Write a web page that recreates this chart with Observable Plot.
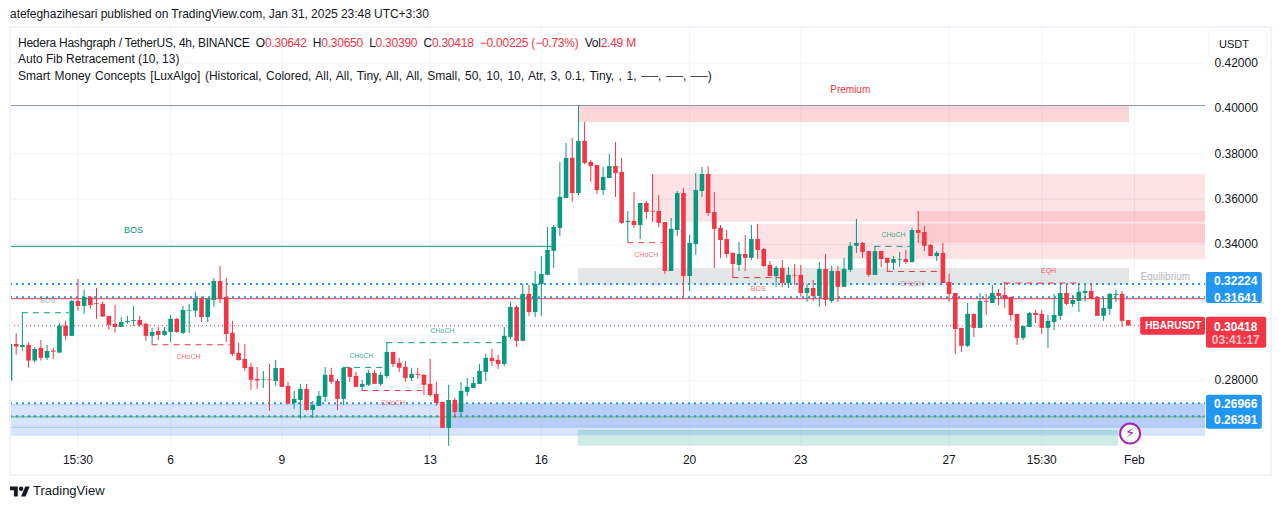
<!DOCTYPE html>
<html><head><meta charset="utf-8">
<script src="https://cdn.jsdelivr.net/npm/d3@7"></script>
<script src="https://cdn.jsdelivr.net/npm/@observablehq/plot@0.6"></script>
<style>
html,body{margin:0;padding:0;background:#fff;}
#wrap{position:relative;width:1281px;height:509px;overflow:hidden;font-family:"Liberation Sans",sans-serif;color:#131722;}
#wrap svg{display:block;}
.ov{position:absolute;white-space:nowrap;font-size:12px;line-height:16px;}
.r{color:#f23645;}
</style></head><body>
<div id="wrap"></div>
<script>
const open=[.2798,.2959,.2946,.2955,.2886,.2942,.2898,.2930,.2921,.3040,.2995,.3149,.3127,.3167,.3139,.3136,.3083,.3048,.3034,.3056,.3061,.3065,.3048,.2995,.3017,.2999,.3012,.3070,.3008,.3106,.3106,.3158,.3078,.3153,.3237,.3167,.3008,.2920,.2893,.2858,.2805,.2802,.2805,.2796,.2853,.2774,.2698,.2712,.2761,.2668,.2686,.2726,.2823,.2796,.2717,.2854,.2818,.2770,.2779,.2831,.2783,.2818,.2924,.2876,.2858,.2809,.2827,.2823,.2783,.2739,.2704,.2589,.2712,.2659,.2748,.2765,.2783,.2836,.2898,.2889,.2871,.2990,.3122,.2973,.3180,.3100,.3224,.3264,.3370,.3471,.3603,.3780,.3625,.3855,.3762,.3749,.3638,.3691,.3744,.3718,.3497,.3502,.3484,.3581,.3546,.3546,.3497,.3281,.3462,.3625,.3259,.3400,.3634,.3709,.3541,.3471,.3422,.3361,.3308,.3356,.3339,.3422,.3378,.3308,.3259,.3295,.3228,.3264,.3264,.3184,.3206,.3171,.3290,.3149,.3281,.3211,.3286,.3392,.3405,.3369,.3264,.3369,.3339,.3317,.3331,.3334,.3321,.3462,.3453,.3396,.3347,.3361,.3233,.3184,.3030,.2951,.3092,.3030,.3149,.3140,.3184,.3175,.3167,.3092,.2986,.3034,.3096,.3092,.3030,.3056,.3083,.3184,.3136,.3149,.3184,.3193,.3167,.3083,.3114,.3175,.3180,.30642];
const high=[.2959,.3006,.3099,.2968,.2945,.2977,.2955,.2942,.3051,.3061,.3153,.3246,.3198,.3171,.3206,.3146,.3083,.3131,.3078,.3083,.3127,.3083,.3052,.3030,.3034,.3034,.3087,.3074,.3127,.3136,.3189,.3168,.3162,.3250,.3303,.3250,.3061,.2964,.2959,.2876,.2858,.2840,.2871,.2889,.2853,.2792,.2752,.2783,.2783,.2708,.2752,.2858,.2854,.2805,.2858,.2858,.2836,.2801,.2845,.2845,.2836,.2968,.2924,.2898,.2884,.2854,.2854,.2827,.2893,.2792,.2704,.2779,.2721,.2792,.2809,.2814,.2871,.2915,.2937,.2911,.3034,.3145,.3131,.3224,.3220,.3280,.3347,.3475,.3484,.3762,.3846,.3868,.4013,.3938,.3771,.3749,.3740,.3797,.3850,.3780,.3546,.3630,.3581,.3590,.3709,.3616,.3497,.3515,.3634,.3647,.3440,.3713,.3740,.3744,.3630,.3484,.3462,.3361,.3409,.3440,.3484,.3489,.3383,.3325,.3303,.3330,.3299,.3312,.3308,.3224,.3242,.3321,.3356,.3303,.3303,.3339,.3409,.3511,.3409,.3369,.3392,.3369,.3339,.3347,.3365,.3374,.3471,.3546,.3480,.3400,.3369,.3405,.3268,.3184,.3030,.3140,.3092,.3184,.3180,.3220,.3202,.3233,.3167,.3092,.3039,.3100,.3109,.3109,.3087,.3180,.3220,.3224,.3175,.3224,.3224,.3224,.3167,.3162,.3184,.3198,.3193,.30650];
const low=[.2798,.2911,.2930,.2855,.2877,.2886,.2889,.2893,.2921,.2977,.2995,.3106,.3092,.3114,.3070,.3078,.3023,.3009,.3034,.3048,.3039,.3034,.2973,.2958,.2977,.2995,.2968,.3008,.3003,.3008,.3078,.3056,.3056,.3123,.3139,.2968,.2906,.2885,.2840,.2757,.2761,.2765,.2664,.2774,.2770,.2695,.2673,.2629,.2664,.2633,.2686,.2704,.2783,.2668,.2690,.2792,.2770,.2755,.2774,.2783,.2774,.2809,.2858,.2836,.2792,.2796,.2805,.2734,.2726,.2686,.2589,.2510,.2633,.2642,.2730,.2765,.2783,.2796,.2862,.2849,.2862,.2981,.2946,.2973,.3083,.3078,.3083,.3264,.3295,.3436,.3603,.3586,.3616,.3753,.3674,.3621,.3616,.3691,.3608,.3489,.3409,.3471,.3422,.3511,.3497,.3475,.3268,.3281,.3436,.3167,.3193,.3352,.3608,.3524,.3295,.3339,.3339,.3253,.3281,.3281,.3330,.3334,.3299,.3259,.3211,.3211,.3206,.3220,.3167,.3145,.3149,.3123,.3127,.3140,.3145,.3211,.3277,.3361,.3339,.3255,.3264,.3299,.3277,.3286,.3299,.3312,.3317,.3405,.3369,.3347,.3325,.3228,.3145,.2915,.2924,.2946,.2990,.3030,.3087,.3140,.3131,.3118,.3061,.2955,.2977,.3034,.3052,.3003,.2942,.3021,.3065,.3131,.3123,.3100,.3145,.3158,.3083,.3061,.3087,.3145,.3034,.30390];
const close=[.2959,.2948,.2955,.2886,.2937,.2898,.2928,.2925,.3040,.2995,.3149,.3127,.3167,.3131,.3136,.3080,.3043,.3034,.3056,.3061,.3065,.3043,.2995,.3012,.2999,.3017,.3070,.3012,.3109,.3109,.3158,.3078,.3158,.3237,.3158,.3003,.2915,.2889,.2853,.2801,.2798,.2805,.2802,.2853,.2770,.2695,.2717,.2761,.2668,.2690,.2730,.2823,.2792,.2717,.2854,.2814,.2770,.2783,.2831,.2783,.2823,.2924,.2871,.2854,.2809,.2827,.2823,.2779,.2734,.2699,.2589,.2712,.2659,.2752,.2770,.2787,.2840,.2898,.2884,.2871,.2995,.3122,.2973,.3180,.3100,.3224,.3268,.3374,.3475,.3608,.3780,.3625,.3855,.3758,.3744,.3638,.3696,.3744,.3713,.3493,.3502,.3484,.3581,.3541,.3543,.3493,.3281,.3467,.3625,.3259,.3405,.3638,.3709,.3537,.3467,.3418,.3356,.3312,.3356,.3339,.3422,.3374,.3303,.3259,.3295,.3228,.3264,.3261,.3184,.3206,.3171,.3290,.3154,.3281,.3211,.3290,.3392,.3405,.3365,.3264,.3369,.3334,.3317,.3334,.3334,.3321,.3462,.3449,.3392,.3347,.3361,.3228,.3180,.3025,.2951,.3092,.3030,.3149,.3145,.3184,.3171,.3158,.3087,.2986,.3039,.3096,.3087,.3030,.3061,.3087,.3184,.3136,.3153,.3189,.3193,.3158,.3083,.3118,.3180,.3180,.3061,.30418];

const tickIndex=[11,26,44,68,86,110,128,152,167,182];
const tickLabels=["15:30","6","9","13","16","20","23","27","15:30","Feb"];
const priceTicks=[.28,.34,.36,.38,.40,.42];
const gridPrices=[.26,.28,.30,.32,.34,.36,.38,.40,.42];

const zoneStart=[0,71,92,104,121,147,92,92];
const zoneEnd=[193.5,193.5,179.4,193.5,193.5,193.5,181.2,181.2];
const zoneTop=[.2693,.2699,.2580,.3709,.3489,.3546,.4013,.3295];
const zoneBottom=[.2560,.2593,.2510,.3499,.3334,.3405,.3938,.3222];
const zoneFill=["#3a7af0","#3a7af0","#089981","#f23645","#f23645","#f23645","#f23645","#787b86"];
const zoneAlpha=[.2,.2,.2,.14,.14,.14,.2,.2];

const dashStart=[2,23,54,57,61,100,117,140,142,161];
const dashEnd=[9.6,35.7,60.6,66.8,79.6,106,125.5,146,150.3,173.1];
const dashPrice=[.3099,.2958,.2858,.2756,.2967,.3408,.3254,.3392,.3281,.3230];
const dashColor=["#089981","#f23645","#089981","#f23645","#089981","#f23645","#f23645","#089981","#f23645","#f23645"];

const labelText=["BOS","BOS","CHoCH","CHoCH","CHoCH","CHoCH","CHoCH","BOS","CHoCH","CHoCH","EQH","Equilibrium","Premium"];
const labelIndex=[20,6.1,28.9,56.9,62,70,103,121.1,143,146,168.1,187,136];
const labelPrice=[.3462,.3152,.2906,.2911,.2704,.3018,.3353,.3206,.3441,.3227,.3283,.3259,.4083];
const labelColor=["#089981","#089981","#f23645","#089981","#f23645","#089981","#f23645","#f23645","#089981","#f23645","#f23645","#b2b5be","#f23645"];
const labelSize=[9,7,7,7,7,7,7,7,7,7,7,10,10];
const labelAlpha=[1,.6,.75,.85,.75,.85,.75,.75,.85,.65,.8,1,1];

const solidStart=[0,0,0];
const solidEnd=[193.5,88,193.5];
const solidPrice=[.4013,.3392,.3161];
const solidColor=["#8a92b6","#089981","#f23645"];

const levelPrice=[.32224,.31641,.26966,.26391];
const lastPrice=.30418;
const fibPrice=.2640;

const tagLow=[.3140,.2585];
const tagHigh=[.3277,.2735];
const tagValues=[["0.32224",.3237],["0.31641",.31641],["0.26966",.26966],["0.26391",.2624]];

const candles=open.map((o,i)=>({i,open:o,high:high[i],low:low[i],close:close[i],col:close[i]>=o?"#089981":"#f23645"}));
const zones=zoneStart.map((s,i)=>({s,e:zoneEnd[i],t:zoneTop[i],b:zoneBottom[i],f:zoneFill[i],a:zoneAlpha[i]}));
const dashes=dashStart.map((s,i)=>({s,e:dashEnd[i],p:dashPrice[i],c:dashColor[i]}));
const labels=labelText.map((t,i)=>({t,x:labelIndex[i],p:labelPrice[i],c:labelColor[i],s:labelSize[i],a:labelAlpha[i]}));
const solids=solidStart.map((s,i)=>({s,e:solidEnd[i],p:solidPrice[i],c:solidColor[i]}));
const XEND=193.5, TAGL=193.66, TAGR=202.7, TAGRR=203.4, TAGC=198.4;

const chart=Plot.plot({
  width:1281,height:509,marginLeft:10,marginRight:76,marginTop:28,marginBottom:63,
  style:{fontFamily:'"Liberation Sans",sans-serif',fontSize:"12px",background:"transparent",color:"#131722",overflow:"visible"},
  x:{type:"linear",domain:[0.08,XEND],label:null},
  y:{type:"linear",domain:[.2509,.4353],label:null},
  marks:[
    Plot.gridY(gridPrices,{stroke:"#f0f3fa",strokeOpacity:1}),
    Plot.gridX(tickIndex,{stroke:"#f0f3fa",strokeOpacity:1}),
    Plot.rect(zones,{x1:"s",x2:"e",y1:"b",y2:"t",fill:"f",fillOpacity:"a"}),
    Plot.ruleY([.2693,.2593,.2560],{x1:0.08,x2:XEND,stroke:"#b3cdf5",strokeWidth:1}),
    Plot.ruleY(solids,{x1:"s",x2:"e",y:"p",stroke:"c",strokeWidth:1}),
    Plot.ruleY([fibPrice],{x1:0.08,x2:XEND,stroke:"#6fb868",strokeWidth:1.2}),
    Plot.ruleY([lastPrice],{x1:0.08,x2:XEND,stroke:"#f23645",strokeWidth:1,strokeDasharray:"1,3"}),
    Plot.ruleY(levelPrice,{x1:0.08,x2:XEND,dy:-0.7,stroke:"#2196f3",strokeWidth:2,strokeDasharray:"2,4"}),
    Plot.ruleY(dashes,{x1:"s",x2:"e",y:"p",stroke:"c",strokeWidth:1,strokeDasharray:"6,5"}),
    Plot.ruleX(candles,{x:"i",y1:"low",y2:"high",stroke:"col",strokeWidth:1,clip:true}),
    Plot.ruleX(candles,{x:"i",y1:"open",y2:"close",stroke:"col",strokeWidth:4.6,clip:true}),
    Plot.text(labels,{x:"x",y:"p",text:"t",fill:"c",fontSize:"s",fillOpacity:"a"}),
    Plot.axisY(priceTicks,{anchor:"right",tickSize:0,tickPadding:9,tickFormat:d3.format(".5f"),fontSize:12,label:null,fill:"#131722"}),
    Plot.axisX(tickIndex,{anchor:"bottom",tickSize:0,tickPadding:9,tickFormat:d=>tickLabels[tickIndex.indexOf(d)],fontSize:12,label:null,fill:"#131722"}),
    Plot.rect([0,1],{x1:TAGL,x2:TAGR,y1:i=>tagLow[i],y2:i=>tagHigh[i],fill:"#2196f3",rx:2}),
    Plot.rect([0],{x1:TAGL,x2:TAGRR,y1:.2942,y2:.3079,fill:"#f23645",rx:2}),
    Plot.rect([0],{x1:183,x2:193.5,y1:.3000,y2:.3079,fill:"#f23645",rx:2}),
    Plot.text(tagValues,{x:TAGC,y:d=>d[1],text:d=>d[0],fill:"white",fontSize:12,fontWeight:600}),
    Plot.text(["0.30418"],{x:TAGC,y:.3036,fill:"white",fontSize:12,fontWeight:600}),
    Plot.text(["03:41:17"],{x:TAGC,y:.2980,fill:"white",fillOpacity:.7,fontSize:12,fontWeight:600}),
    Plot.text(["HBARUSDT"],{x:188.3,y:.3040,fill:"white",fontSize:10,fontWeight:600}),
    Plot.dot([0],{x:181.3,y:.2566,r:10,fill:"white",stroke:"#9c27b0",strokeWidth:2}),
    Plot.text(["⚡"],{x:181.3,y:.2566,fill:"#9c27b0",fontSize:15,fontWeight:700,fontFamily:"DejaVu Sans"})
  ]
});
const wrap=document.getElementById("wrap");
wrap.appendChild(chart);
function add(html,css){const d=document.createElement("div");d.className="ov";d.style.cssText=css;d.innerHTML=html;wrap.appendChild(d);}
add("atefeghazihesari published on TradingView.com, Jan 31, 2025 23:48 UTC+3:30","left:10px;top:6px;letter-spacing:-.04px");
add('Hedera Hashgraph / TetherUS, 4h, BINANCE&nbsp; O<span class="r">0.30642</span>&nbsp; H<span class="r">0.30650</span>&nbsp; L<span class="r">0.30390</span>&nbsp; C<span class="r">0.30418</span>&nbsp; <span class="r">−0.00225 (−0.73%)</span>&nbsp; Vol<span class="r">2.49 M</span>',"left:18px;top:35px;letter-spacing:-.24px");
add("Auto Fib Retracement (10, 13)","left:18px;top:51px");
add("Smart Money Concepts [LuxAlgo] (Historical, Colored, All, All, Tiny, All, All, Small, 50, 10, 10, Atr, 3, 0.1, Tiny, , 1, ──, ──, ──)","left:18px;top:68px;word-spacing:1.2px");
add("","left:9px;top:26px;width:1259px;height:446px;border:2px solid #f0f3fa;pointer-events:none");
add("USDT",'left:1208px;top:30px;width:48px;height:26px;line-height:26px;padding-left:10px;border:1px solid #f0f3fa;border-radius:5px;background:#fff;font-size:11px');
add('<svg width="20" height="16" viewBox="0 0 36 28"><path fill="#131722" d="M14 22H7V11H0V4h14v18zM28 22h-8l7.5-18h8L28 22z"/><circle fill="#131722" cx="20" cy="8" r="4"/></svg>',"left:10px;top:484px");
add("TradingView","left:33px;top:483px;font-size:13px");
</script>
</body></html>
